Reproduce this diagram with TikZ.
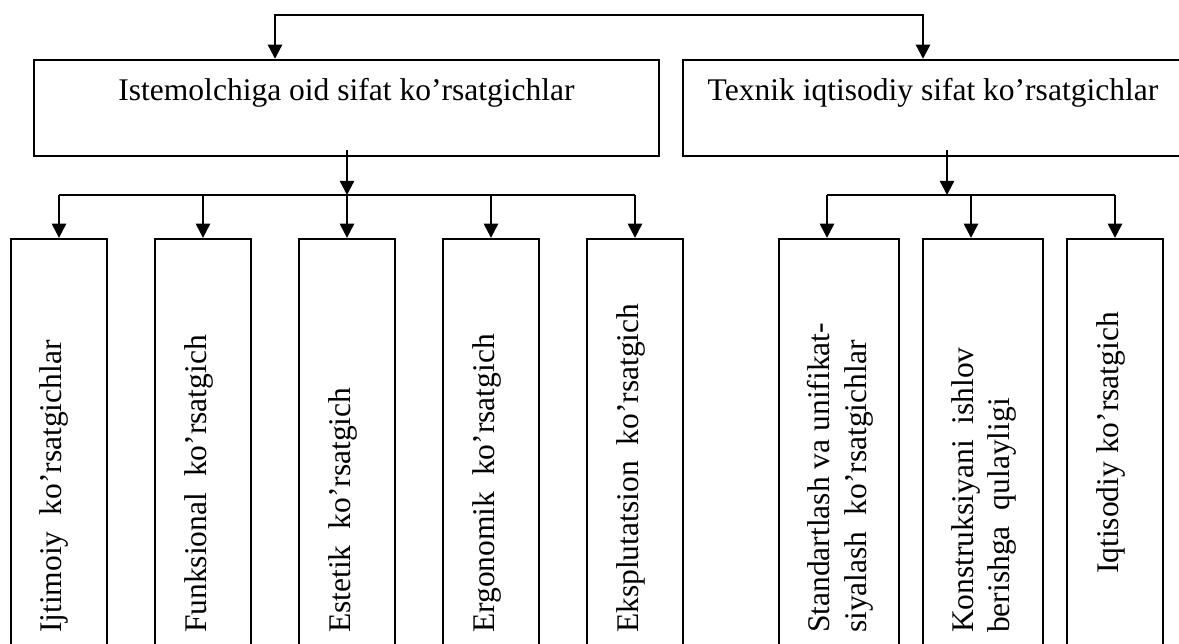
\documentclass[tikz,border=0pt]{standalone}
\usepackage{fontspec}
\setmainfont{Liberation Serif}
\usetikzlibrary{arrows.meta}
\tikzset{
  box/.style={draw, inner sep=0pt},
  vtext/.style={rotate=90, inner sep=0pt, align=left},
}
\begin{document}
\begin{tikzpicture}[x=0.444pt, y=-0.444pt, line width=1pt, >={Triangle[width=6.3pt,length=6.3pt]}, font=\fontsize{14}{16.4}\selectfont]
    \clip (0,0) rectangle (1179,643);
    \node[box, minimum width=277.5pt, text height=17.8pt, text depth=24.9pt] (istemol) at (346.5,108) {Istemolchiga oid sifat ko’rsatgichlar};
    \node[box, minimum width=222pt, text height=17.8pt, text depth=24.9pt] (texnik) at (933,108) {Texnik iqtisodiy sifat ko’rsatgichlar};
    \coordinate (topL) at (275,15);
    \coordinate (topR) at (923,15);
    \draw[<->] (istemol.north -| topL) -- (topL) -- (topR) -- (texnik.north -| topR);
    \node[box, minimum width=42.6pt, minimum height=186.5pt] (ijtimoiy) at (59,449) {};
    \node[box, minimum width=42.6pt, minimum height=186.5pt] (funks) at (203,449) {};
    \node[box, minimum width=42.6pt, minimum height=186.5pt] (estetik) at (347,449) {};
    \node[box, minimum width=42.6pt, minimum height=186.5pt] (ergo) at (491,449) {};
    \node[box, minimum width=42.6pt, minimum height=186.5pt] (ekspl) at (635,449) {};
    \node[box, minimum width=53.3pt, minimum height=186.5pt] (standart) at (839,449) {};
    \node[box, minimum width=53.3pt, minimum height=186.5pt] (konstr) at (983,449) {};
    \node[box, minimum width=42.6pt, minimum height=186.5pt] (iqtisod) at (1115,449) {};
    \node[vtext, anchor=base west] (ijtimoiyT) at (61,634) {Ijtimoiy\ \ ko’rsatgichlar};
    \node[vtext, anchor=base west] (funksT) at (206,634) {Funksional\ \ ko’rsatgich};
    \node[vtext, anchor=base west] (estetikT) at (350,634) {Estetik\ \ ko’rsatgich};
    \node[vtext, anchor=base west] (ergoT) at (494,634) {Ergonomik\ \ ko’rsatgich};
    \node[vtext, anchor=base west] (eksplT) at (638,634) {Eksplutatsion\ \ ko’rsatgich};
    \node[vtext, anchor=north west] (standartT) at (806,634) {Standartlash va unifikat-\\siyalash\ \ ko’rsatgichlar};
    \node[vtext, anchor=north west] (konstrT) at (950,634) {Konstruksiyani\ \ ishlov\\berishga\ \ qulayligi};
    \node[vtext, anchor=base west] (iqtisodT) at (1118,575) {Iqtisodiy ko’rsatgich};
    \coordinate (outA) at (347,150);
    \coordinate (busA) at (347,195);
    \draw[->] (outA) -- (busA);
    \draw (ijtimoiy.north |- busA) -- (ekspl.north |- busA);
    \foreach \n in {ijtimoiy, funks, estetik, ergo, ekspl}
      \draw[->] (\n.north |- busA) -- (\n.north);
    \coordinate (outB) at (947,150);
    \coordinate (busB) at (947,195);
    \coordinate (busL) at (827,195);
    \coordinate (busM) at (971,195);
    \draw[->] (outB) -- (busB);
    \draw (busL) -- (iqtisod.north |- busB);
    \draw[->] (busL) -- (busL |- standart.north);
    \draw[->] (busM) -- (busM |- konstr.north);
    \draw[->] (iqtisod.north |- busB) -- (iqtisod.north);
\end{tikzpicture}
\end{document}
